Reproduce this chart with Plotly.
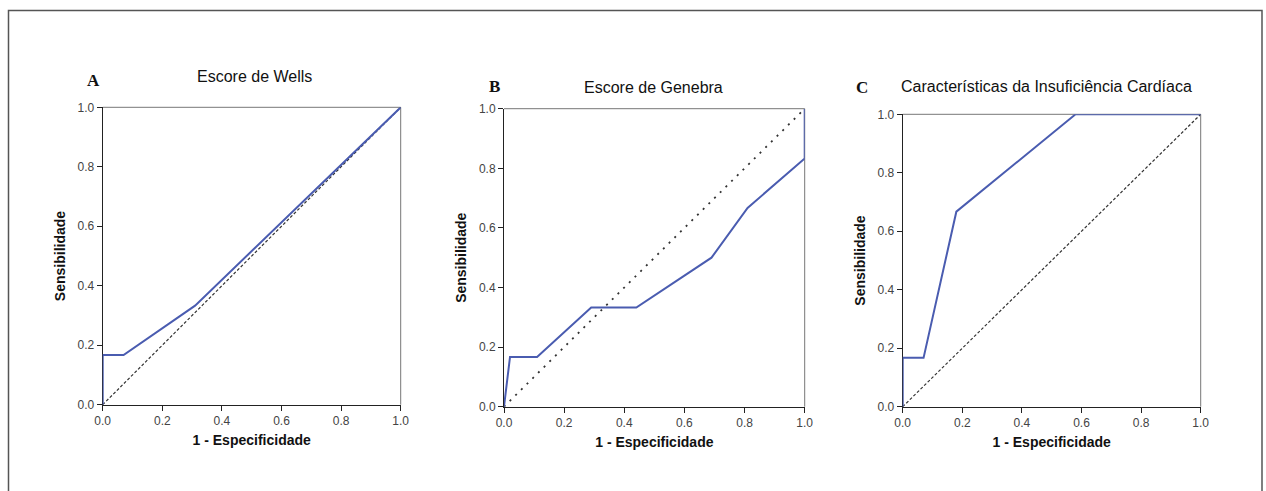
import plotly.graph_objects as go

W, H = 1266, 491

# ROC data
wells_x = [0.0, 0.0, 0.07, 0.31, 1.0]
wells_y = [0.0, 0.167, 0.167, 0.333, 1.0]

genebra_x = [0.0, 0.02, 0.11, 0.29, 0.44, 0.69, 0.81, 1.0, 1.0]
genebra_y = [0.0, 0.167, 0.167, 0.333, 0.333, 0.5, 0.667, 0.833, 1.0]

ic_x = [0.0, 0.0, 0.07, 0.18, 0.58, 1.0]
ic_y = [0.0, 0.167, 0.167, 0.667, 1.0, 1.0]

ref_x = [0.0, 1.0]
ref_y = [0.0, 1.0]

tick_vals = [0.0, 0.2, 0.4, 0.6, 0.8, 1.0]
tick_text = ["0.0", "0.2", "0.4", "0.6", "0.8", "1.0"]

titles = ["Escore de Wells", "Escore de Genebra", "Características da Insuficiência Cardíaca"]
letters = ["A", "B", "C"]
x_title = "1 - Especificidade"
y_title = "Sensibilidade"

# pixel boxes: (left, right, top, bottom)
boxes = [(102.7, 400.7, 107.3, 404.7), (504.0, 804.7, 108.7, 406.7), (902.7, 1200.7, 114.3, 406.7)]
title_pos = [(254, 76), (653, 88), (1046, 86)]
letter_pos = [(94, 80), (494, 86), (862, 88)]
ref_dash = ["3px,2px", "2px,6px", "3px,2px"]
ref_width = [1.2, 1.8, 1.2]

BLUE = "#4a5cb0"
FONT = "Liberation Sans, Arial"

fig = go.Figure()
curves = [(wells_x, wells_y), (genebra_x, genebra_y), (ic_x, ic_y)]
shapes = []
annotations = []

# outer frame
shapes.append(dict(type="rect", xref="paper", yref="paper",
                   x0=8.5 / W, x1=1262 / W, y0=-0.05, y1=1 - 10.5 / H,
                   line=dict(color="#555", width=1.5), fillcolor="rgba(0,0,0,0)", layer="below"))

for i in range(3):
    xa = "x" if i == 0 else f"x{i+1}"
    ya = "y" if i == 0 else f"y{i+1}"
    l, r, t, b = boxes[i]
    fig.add_trace(go.Scatter(x=ref_x, y=ref_y, mode="lines", xaxis=xa, yaxis=ya,
                             line=dict(color="#333", width=ref_width[i], dash=ref_dash[i]),
                             showlegend=False, hoverinfo="skip", cliponaxis=False))
    cx, cy = curves[i]
    fig.add_trace(go.Scatter(x=cx, y=cy, mode="lines", xaxis=xa, yaxis=ya,
                             line=dict(color=BLUE, width=2), showlegend=False, cliponaxis=False))
    axis_common = dict(range=[0, 1], tickvals=tick_vals, ticktext=tick_text,
                       showgrid=False, zeroline=False, showline=True, linecolor="#222",
                       linewidth=1, ticks="outside", ticklen=5, tickcolor="#222",
                       tickfont=dict(family=FONT, size=12, color="#444"),
                       fixedrange=True, automargin=False, layer="below traces")
    xkey = "xaxis" if i == 0 else f"xaxis{i+1}"
    ykey = "yaxis" if i == 0 else f"yaxis{i+1}"
    fig.update_layout(**{
        xkey: dict(axis_common, domain=[l / W, r / W], anchor=ya,
                   title=dict(text=f"<b>{x_title}</b>", standoff=8,
                              font=dict(family=FONT, size=14, color="#111"))),
        ykey: dict(axis_common, domain=[1 - b / H, 1 - t / H], anchor=xa,
                   title=dict(text=f"<b>{y_title}</b>", standoff=8,
                              font=dict(family=FONT, size=14, color="#111"))),
    })
    # top and right frame lines
    shapes.append(dict(type="line", xref="paper", yref="paper", x0=l / W, x1=r / W,
                       y0=1 - t / H, y1=1 - t / H, line=dict(color="#777", width=1), layer="below"))
    shapes.append(dict(type="line", xref="paper", yref="paper", x0=r / W, x1=r / W,
                       y0=1 - t / H, y1=1 - b / H, line=dict(color="#777", width=1), layer="below"))
    tx, ty = title_pos[i]
    annotations.append(dict(text=titles[i], xref="paper", yref="paper", x=tx / W, y=1 - ty / H,
                            showarrow=False, xanchor="center", yanchor="middle",
                            font=dict(family=FONT, size=16, color="#111")))
    lx, ly = letter_pos[i]
    annotations.append(dict(text=f"<b>{letters[i]}</b>", xref="paper", yref="paper", x=lx / W, y=1 - ly / H,
                            showarrow=False, xanchor="center", yanchor="middle",
                            font=dict(family="Liberation Serif, Times New Roman", size=17, color="#111")))

fig.update_layout(width=W, height=H, margin=dict(l=0, r=0, t=0, b=0, pad=0),
                  paper_bgcolor="white", plot_bgcolor="white",
                  shapes=shapes, annotations=annotations, showlegend=False)

fig.write_html("out.html", config={"displayModeBar": False},
               post_script="document.body.style.margin='0px';document.body.style.overflow='hidden';")
